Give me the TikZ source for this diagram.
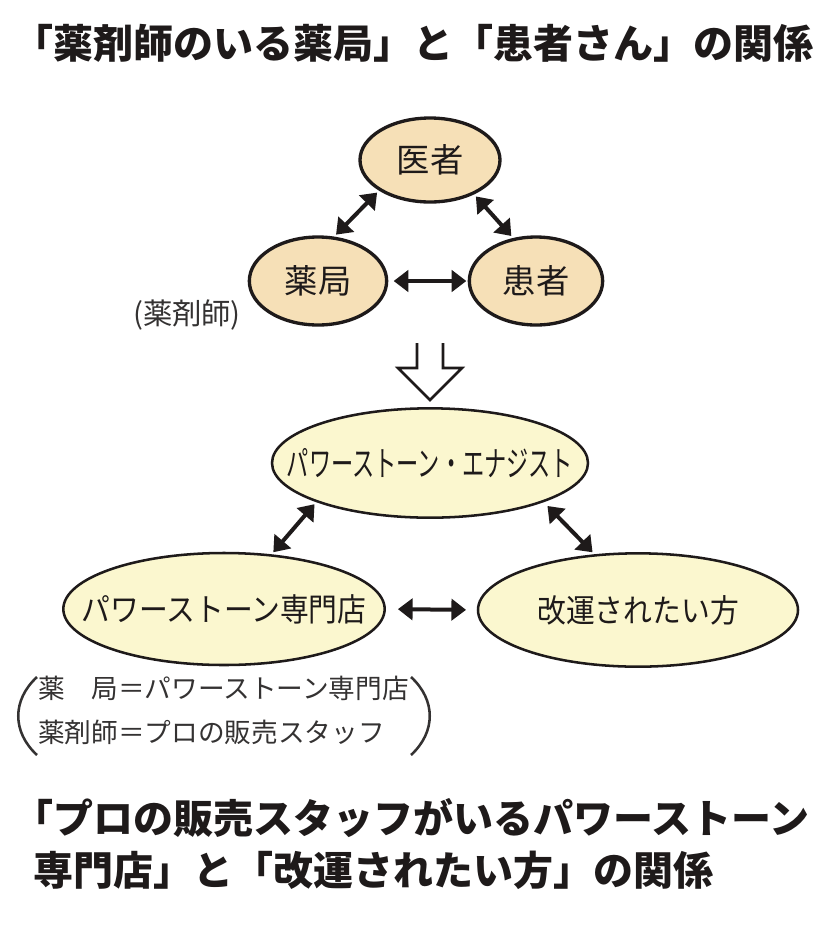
\documentclass[tikz,border=0pt]{standalone}
\usepackage{fontspec}
\setmainfont{Noto Sans CJK JP}
\usepackage{graphicx}
\usetikzlibrary{arrows.meta,shapes.geometric}
\definecolor{relInk}{RGB}{30,26,26}
\definecolor{relGray}{RGB}{52,50,50}
\definecolor{relPeach}{RGB}{246,224,183}
\definecolor{relCream}{RGB}{251,247,207}
\tikzset{
  relpeach/.style={ellipse,draw=relInk,line width=2.5pt,fill=relPeach,inner sep=0pt,text=relInk,font=\fontsize{25}{30}\selectfont},
  relcream/.style={ellipse,draw=relInk,line width=1.9pt,fill=relCream,inner sep=0pt,text=relInk,font=\fontsize{24}{28}\selectfont},
  relflow/.style={{Triangle[length=11pt,width=16pt]}-{Triangle[length=11pt,width=16pt]},draw=relInk,line width=3pt,shorten <=2pt,shorten >=2pt},
  relhollow/.style={draw=relInk,line width=1.9pt,line join=miter},
  relparen/.style={draw=relGray,line width=1.9pt},
  reltitle/.style={font=\bfseries\fontsize{30}{39}\selectfont,text=relInk,anchor=west,align=left,inner sep=0pt},
  relnote/.style={font=\fontsize{20}{33}\selectfont,text=relGray,inner sep=0pt},
}
% text that does not widen the oval around it
\newcommand{\OvalText}[2]{\makebox[0pt]{\scalebox{#1}[1]{#2}}}

\begin{document}
\begin{tikzpicture}[x=0.75pt,y=-0.75pt]
\useasboundingbox (0,0) rectangle (839,926);

% headline: pharmacy and patient
\node[reltitle] (headTop) at (33,43)
  {\hspace*{-0.5em}「薬剤師のいる薬局」と「患者さん」の関係};

% upper triangle
\node[relpeach,minimum width=105pt,minimum height=63pt] (isha) at (430,160) {\OvalText{1}{医者}};
\node[relpeach,minimum width=103pt,minimum height=66pt] (yak) at (318,281) {\OvalText{1}{薬局}};
\node[relpeach,minimum width=100pt,minimum height=66pt] (kan) at (536,281) {\OvalText{1}{患者}};
\node[relnote,font=\fontsize{22}{26}\selectfont] (pharmacist) at (187,315) {(薬剤師)};

\draw[relflow] (yak.70) -- (isha.211);
\draw[relflow] (isha.322) -- (kan.118);
\draw[relflow,shorten <=4pt,shorten >=1pt] (yak.east) -- (kan.west);

% hollow arrow down
\draw[relhollow] (417,343) -- (417,368) -- (398,368) -- (430,400)
  -- (462,368) -- (443,368) -- (443,343);

% lower triangle
\node[relcream,minimum width=237pt,minimum height=82pt,font=\fontsize{26}{30}\selectfont] (ene) at (430,463)
  {\OvalText{0.64}{パワーストーン・エナジスト}};
\node[relcream,minimum width=241pt,minimum height=84pt] (shop) at (224,609)
  {\OvalText{0.9}{パワーストーン専門店}};
\node[relcream,minimum width=240pt,minimum height=85pt] (kaiun) at (638,610)
  {\OvalText{0.9}{改運されたい方}};

\draw[relflow] (shop.49) -- (ene.199);
\draw[relflow,shorten <=4pt] (ene.341) -- (kaiun.128);
\draw[relflow,shorten <=9pt,shorten >=8pt] (shop.east) -- (kaiun.west);

% legend in brackets
\node[relnote,anchor=west,align=left] (legend) at (38,710)
  {薬　局＝パワーストーン専門店\\薬剤師＝プロの販売スタッフ};
\draw[relparen] (37,677) .. controls (12,700) and (12,732) .. (37,755);
\draw[relparen] (411,677) .. controls (436,700) and (436,732) .. (411,755);

% headline: shop and customer
\node[reltitle] (headBottom) at (33,844)
  {\hspace*{-0.5em}「プロの販売スタッフがいるパワーストーン\\専門店」と「改運されたい方」の関係};
\end{tikzpicture}
\end{document}
